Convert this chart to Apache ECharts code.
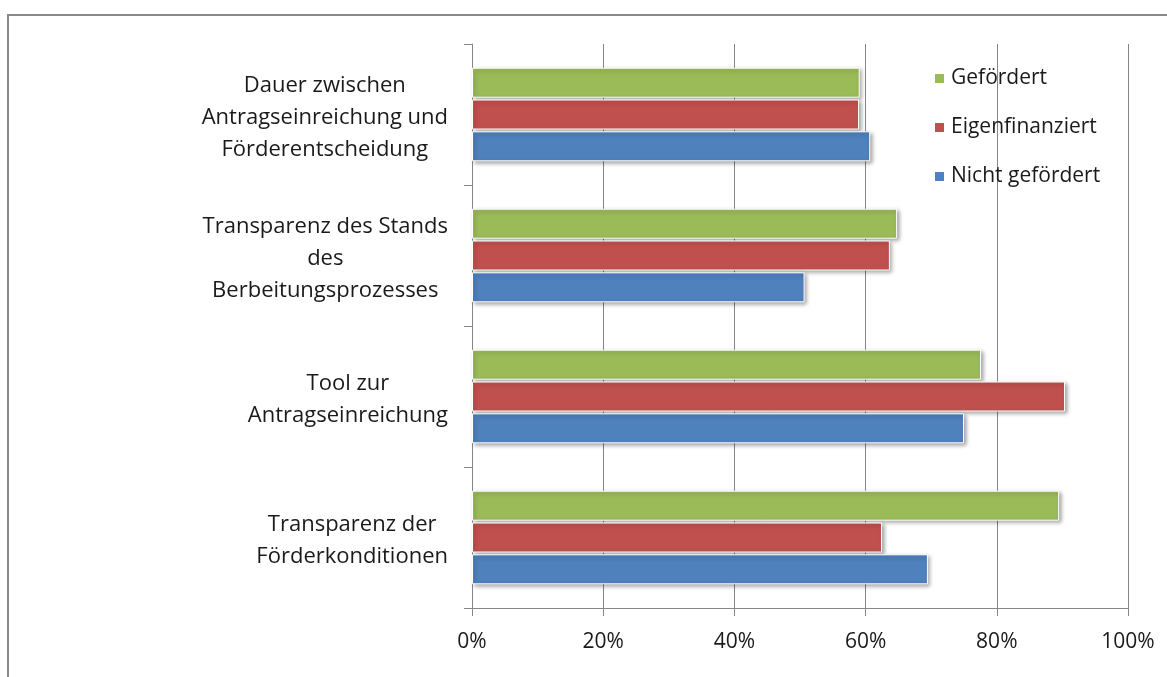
<!DOCTYPE html>
<html>
<head>
<meta charset="utf-8">
<script src="https://cdn.jsdelivr.net/npm/echarts@6/dist/echarts.min.js"></script>
<style>
  html, body { margin: 0; padding: 0; background: #fff; }
  #chart { width: 1167px; height: 677px; }
  .frame {
    position: absolute; left: 7px; top: 14px; width: 1200px; height: 700px;
    border: 2px solid #8a8a8a; pointer-events: none;
  }
</style>
</head>
<body>
<div id="chart"></div>
<div class="frame"></div>
<script>
// ============ Data ============
const categories = [
  'Dauer zwischen\nAntragseinreichung und\nFörderentscheidung',
  'Transparenz des Stands\ndes\nBerbeitungsprozesses',
  'Tool zur\nAntragseinreichung',
  'Transparenz der\nFörderkonditionen',
]
const seriesNames = ['Gefördert', 'Eigenfinanziert', 'Nicht gefördert']
const gefoerdert = [59.1, 64.8, 77.6, 89.5]
const eigenfinanziert = [59.0, 63.7, 90.4, 62.5]
const nichtGefoerdert = [60.7, 50.7, 75.0, 69.5]
const xTicks = [0, 20, 40, 60, 80, 100]

const colors = ['#9bbb59', '#c0504d', '#4f81bd']
const font = '"Open Sans", "Noto Sans", sans-serif'

const chart = echarts.init(document.getElementById('chart'))

const barStyle = (color) => ({
  color,
  borderColor: '#fff',
  borderWidth: 1,
  shadowColor: 'rgba(0, 0, 0, 0.35)',
  shadowBlur: 4,
  shadowOffsetX: 2,
  shadowOffsetY: 2,
})

chart.setOption({
  animation: false,
  grid: { left: 472, right: 39, top: 44, bottom: 69 },
  legend: {
    orient: 'vertical',
    left: 928,
    top: 63,
    itemWidth: 11,
    itemHeight: 11,
    itemGap: 28,
    icon: 'rect',
    data: seriesNames,
    textStyle: { fontFamily: font, fontSize: 21, color: '#1a1a1a', padding: [0, 0, 0, 1] },
  },
  xAxis: {
    type: 'value',
    min: xTicks[0],
    max: xTicks[xTicks.length - 1],
    interval: 20,
    axisLine: { show: true, lineStyle: { color: '#868686', width: 1 } },
    axisTick: { show: true, length: 8, lineStyle: { color: '#868686' } },
    splitLine: { show: true, lineStyle: { color: '#868686', width: 1 } },
    axisLabel: {
      margin: 24,
      fontFamily: font,
      fontSize: 21,
      color: '#1a1a1a',
      formatter: (v) => v + '%',
    },
  },
  yAxis: {
    type: 'category',
    inverse: true,
    data: categories,
    axisLine: { show: true, lineStyle: { color: '#868686', width: 1 } },
    axisTick: { show: true, length: 8, lineStyle: { color: '#868686' } },
    axisLabel: {
      margin: 24,
      align: 'right',
      padding: [6, 0, 0, 0],
      fontFamily: font,
      fontSize: 22,
      color: '#1a1a1a',
      formatter: (v) => v.split('\n').map((l) => '{c|' + l + '}').join('\n'),
      rich: {
        c: { align: 'center', fontFamily: font, fontSize: 22, lineHeight: 32, color: '#1a1a1a' },
      },
    },
  },
  series: [
    { name: seriesNames[0], type: 'bar', data: gefoerdert, barWidth: 30, barGap: '6%', itemStyle: barStyle(colors[0]) },
    { name: seriesNames[1], type: 'bar', data: eigenfinanziert, barWidth: 30, barGap: '6%', itemStyle: barStyle(colors[1]) },
    { name: seriesNames[2], type: 'bar', data: nichtGefoerdert, barWidth: 30, barGap: '6%', itemStyle: barStyle(colors[2]) },
  ],
})
</script>
</body>
</html>
